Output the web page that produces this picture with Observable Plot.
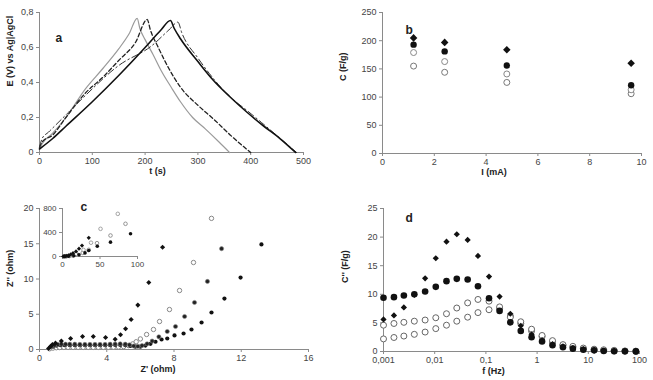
<!DOCTYPE html>
<html><head><meta charset="utf-8">
<script src="https://cdn.jsdelivr.net/npm/d3@7"></script>
<script src="https://cdn.jsdelivr.net/npm/@observablehq/plot@0.6"></script>
<style>
body{margin:0;background:#fff;}
#wrap{position:relative;width:653px;height:380px;background:#fff;overflow:hidden;}
#wrap svg{position:absolute;overflow:visible;}
</style></head><body><div id="wrap"></div>
<script>
// ---------- Panel a: galvanostatic charge/discharge ----------
const aGrayT = [0, 5, 25, 50, 87, 120, 150, 170, 185, 190, 200, 215, 230, 250, 267, 290, 314, 340, 360];
const aGrayE = [0.02, 0.05, 0.11, 0.2, 0.364, 0.48, 0.592, 0.68, 0.767, 0.71, 0.645, 0.56, 0.47, 0.37, 0.29, 0.2, 0.135, 0.06, 0];
const aDashT = [0, 5, 25, 50, 87, 120, 150, 182, 204, 210, 225, 245, 267, 300, 330, 365, 400];
const aDashE = [0.03, 0.06, 0.1, 0.2, 0.34, 0.43, 0.526, 0.63, 0.76, 0.7, 0.6, 0.48, 0.373, 0.27, 0.19, 0.09, 0];
const aDotT = [0, 5, 17, 55, 87, 150, 213, 245, 262, 270, 300, 330, 360, 393, 425, 456, 487];
const aDotE = [0.03, 0.08, 0.116, 0.23, 0.326, 0.497, 0.611, 0.7, 0.745, 0.68, 0.54, 0.42, 0.32, 0.24, 0.16, 0.08, 0];
const aSolT = [0, 25, 50, 100, 150, 200, 230, 248, 255, 267, 300, 330, 360, 393, 425, 456, 485];
const aSolE = [0.02, 0.08, 0.15, 0.29, 0.44, 0.6, 0.7, 0.754, 0.71, 0.65, 0.52, 0.41, 0.32, 0.23, 0.15, 0.078, 0];
const aTicksX = [0, 100, 200, 300, 400, 500];
const aTicksY = [0, 0.2, 0.4, 0.6, 0.8];
const aTickLabelsY = ["0", "0,2", "0,4", "0,6", "0,8"];

// ---------- Panel b: capacitance vs current ----------
const bCurrent = [1.2, 2.4, 4.8, 9.6];
const bFilledDiamond = [205, 197, 184, 160];
const bFilledCircle = [193, 181, 156, 121];
const bOpenDiamond = [179, 163, 141, 113];
const bOpenCircle = [155, 144, 126, 106];
const bTicksX = [0, 2, 4, 6, 8, 10];
const bTicksY = [0, 50, 100, 150, 200, 250];

// ---------- Panel c: Nyquist ----------
const cAx = [0.54, 0.65, 0.77, 0.95, 1.3, 1.85, 2.56, 3.2, 3.93, 4.5, 4.82, 5.12, 5.45, 5.85, 6.5, 7.32];
const cAy = [0.14, 0.43, 0.7, 0.9, 1.2, 1.56, 1.84, 1.84, 1.7, 1.45, 2.1, 2.95, 4.25, 6.3, 9.5, 14.5];
const cBx = [0.6, 0.8, 1.0, 1.2, 1.45, 1.7, 2.0, 2.3, 2.6, 2.9, 3.2, 3.5, 3.8, 4.1, 4.4, 4.7, 5.0, 5.3, 5.55, 5.75, 6.0, 6.37, 6.78, 7.14, 7.73, 8.33, 9.16, 10.23];
const cBy = [0.1, 0.2, 0.25, 0.28, 0.3, 0.3, 0.3, 0.3, 0.3, 0.3, 0.3, 0.3, 0.3, 0.3, 0.32, 0.35, 0.4, 0.55, 0.8, 1.1, 1.5, 2.13, 2.84, 3.97, 5.67, 8.37, 12.34, 18.6];
const cCx = [0.7, 0.9, 1.1, 1.3, 1.55, 1.8, 2.1, 2.4, 2.7, 3.0, 3.3, 3.6, 3.9, 4.2, 4.5, 4.8, 5.1, 5.35, 5.6, 5.85, 6.1, 6.4, 6.7, 7.1, 7.6, 8.09, 8.63, 9.22, 9.99, 10.83];
const cCy = [0.4, 0.6, 0.7, 0.75, 0.75, 0.75, 0.75, 0.72, 0.72, 0.72, 0.72, 0.72, 0.72, 0.75, 0.78, 0.8, 0.75, 0.65, 0.5, 0.45, 0.55, 0.8, 1.2, 1.8, 2.55, 3.26, 4.68, 6.67, 9.65, 14.3];
const cDx = [0.8, 1.0, 1.25, 1.5, 1.8, 2.1, 2.4, 2.7, 3.0, 3.3, 3.6, 3.9, 4.2, 4.5, 4.8, 5.1, 5.4, 5.7, 6.0, 6.3, 6.6, 6.9, 7.26, 7.6, 8.03, 8.57, 9.04, 9.64, 10.23, 11.0, 11.96, 13.2];
const cDy = [0.4, 0.55, 0.6, 0.6, 0.6, 0.6, 0.6, 0.6, 0.6, 0.6, 0.6, 0.6, 0.62, 0.65, 0.65, 0.6, 0.5, 0.4, 0.4, 0.55, 0.8, 1.1, 1.42, 1.56, 1.99, 2.27, 2.84, 3.83, 5.25, 7.23, 10.2, 14.9];
const cTicksX = [0, 4, 8, 12, 16];
const cTicksY = [0, 5, 10, 15, 20];
// inset
const iAx = [1, 3, 5, 8, 11, 14, 18, 22, 26, 35];
const iAy = [2, 5, 10, 20, 35, 55, 85, 130, 183, 311];
const iBx = [2, 5, 9, 14, 20, 27, 35, 46, 64, 84];
const iBy = [1, 3, 8, 15, 30, 60, 111, 222, 350, 545];
const iCx = [4, 10, 18, 28, 38, 50.7, 73.7];
const iCy = [3, 12, 40, 110, 230, 461, 711];
const iDx = [3, 8, 15, 22, 30, 35, 46.4, 64, 90.7];
const iDy = [1, 4, 12, 30, 60, 100, 172, 239, 378];
const iTicksX = [0, 50, 100];
const iTicksY = [0, 400, 800];

// ---------- Panel d: imaginary capacitance vs frequency ----------
const dFreq = [0.001, 0.0016, 0.0025, 0.004, 0.0065, 0.0105, 0.017, 0.027, 0.044, 0.07, 0.115, 0.185, 0.3, 0.48, 0.78, 1.25, 2, 3.2, 5, 8, 13, 20, 32, 52, 85];
const dStar = [5.6, 6.3, 7.7, 9.9, 12.8, 16.3, 19.2, 20.5, 19.5, 16.7, 13.1, 9.6, 6.6, 4.5, 3.0, 2.0, 1.3, 0.9, 0.6, 0.4, 0.2, 0.15, 0.1, 0.05, 0.05];
const dFilled = [9.4, 9.5, 9.8, 10.0, 10.5, 11.3, 12.3, 12.7, 12.6, 11.4, 9.3, 7.1, 5.1, 3.6, 2.5, 1.75, 1.1, 0.75, 0.5, 0.3, 0.2, 0.1, 0.05, 0.05, 0.02];
const dOpenUpper = [4.6, 4.9, 5.1, 5.3, 5.5, 5.9, 6.6, 7.6, 8.5, 9.1, 8.8, 7.8, 6.0, 5.2, 3.9, 2.8, 1.9, 1.2, 0.9, 0.6, 0.4, 0.3, 0.2, 0.1, 0.05];
const dOpenLower = [2.2, 2.45, 2.7, 3.0, 3.4, 4.0, 4.6, 5.3, 6.0, 6.8, 7.3, 7.5, 6.2, 4.9, 3.6, 2.6, 1.7, 1.1, 0.75, 0.5, 0.3, 0.2, 0.1, 0.05, 0.05];
const dTicksX = [0.001, 0.01, 0.1, 1, 10, 100];
const dTickLabelsX = ["0,001", "0,01", "0,1", "1", "10", "100"];
const dTicksY = [0, 5, 10, 15, 20, 25];

// ---------- helpers ----------
const FONT = "'Liberation Sans', Arial, sans-serif";
const AXIS = "#8a8a8a";
const TXT = "#444";
const pts = (xs, ys) => xs.map((x, i) => ({x, y: ys[i]}));
const lab = (ticks, labels) => d => labels ? labels[ticks.indexOf(d)] : String(d);

function panel(o) {
  const fs = o.fontSize || 9;
  const marks = [
    Plot.ruleX([o.xDomain[0]], {stroke: AXIS, strokeWidth: 1}),
    Plot.ruleY([o.yDomain[0]], {stroke: AXIS, strokeWidth: 1}),
    Plot.axisX(o.xTicks, {tickSize: 3, tickPadding: 2, stroke: AXIS, fill: TXT, fontSize: fs, label: null, tickFormat: lab(o.xTicks, o.xLabels)}),
    Plot.axisY(o.yTicks, {tickSize: 3, tickPadding: 3, stroke: AXIS, fill: TXT, fontSize: fs, label: null, tickFormat: lab(o.yTicks, o.yLabels)}),
    ...o.marks
  ];
  if (o.xTitle) marks.push(Plot.text([o.xTitle], {frameAnchor: "bottom", dx: o.xTitleDx, dy: o.xTitleDy, fontWeight: "bold", fontSize: 9, fill: "#222"}));
  if (o.yTitle) marks.push(Plot.text([o.yTitle], {frameAnchor: "left", dx: o.yTitleDx, dy: o.yTitleDy, rotate: -90, fontWeight: "bold", fontSize: 9, fill: "#222"}));
  if (o.letter) marks.push(Plot.text([o.letter], {frameAnchor: "top-left", dx: o.letterDx, dy: o.letterDy, fontWeight: "bold", fontSize: 12, fill: "#222"}));
  const svg = Plot.plot({
    width: o.width, height: o.height,
    marginLeft: o.ml, marginRight: o.mr, marginTop: o.mt, marginBottom: o.mb,
    x: {type: o.xType || "linear", domain: o.xDomain},
    y: {domain: o.yDomain},
    style: {fontFamily: FONT, fontSize: fs + "px", color: TXT, background: "transparent", overflow: "visible"},
    marks
  });
  svg.style.left = o.left + "px";
  svg.style.top = o.top + "px";
  document.getElementById("wrap").appendChild(svg);
}

// ---------- panel a ----------
panel({
  left: 0, top: 0, width: 326, height: 190, ml: 39, mr: 23, mt: 12, mb: 38,
  xDomain: [0, 500], yDomain: [0, 0.8],
  xTicks: aTicksX, yTicks: aTicksY, yLabels: aTickLabelsY,
  xTitle: "t (s)", xTitleDx: -14, xTitleDy: 21,
  yTitle: "E (V) vs Ag|AgCl", yTitleDx: -29, yTitleDy: 4,
  letter: "a", letterDx: 16, letterDy: 21,
  marks: [
    Plot.line(pts(aGrayT, aGrayE), {x: "x", y: "y", stroke: "#9a9a9a", strokeWidth: 1.2, curve: "monotone-x"}),
    Plot.line(pts(aDashT, aDashE), {x: "x", y: "y", stroke: "#222", strokeWidth: 1.3, strokeDasharray: "4,2.5", curve: "monotone-x"}),
    Plot.line(pts(aDotT, aDotE), {x: "x", y: "y", stroke: "#333", strokeWidth: 1, strokeDasharray: "7,3,1.5,3", curve: "monotone-x"}),
    Plot.line(pts(aSolT, aSolE), {x: "x", y: "y", stroke: "#111", strokeWidth: 1.6, curve: "monotone-x"})
  ]
});

// ---------- panel b ----------
panel({
  left: 326, top: 0, width: 327, height: 190, ml: 56, mr: 12, mt: 12, mb: 37,
  xDomain: [0, 10], yDomain: [0, 250],
  xTicks: bTicksX, yTicks: bTicksY,
  xTitle: "I (mA)", xTitleDx: -18, xTitleDy: 21,
  yTitle: "C (F/g)", yTitleDx: -39, yTitleDy: -2,
  letter: "b", letterDx: 23, letterDy: 13,
  marks: [
    Plot.dot(pts(bCurrent, bOpenCircle), {x: "x", y: "y", r: 3, stroke: "#777", strokeWidth: 1, fill: "white"}),
    Plot.dot(pts(bCurrent, bOpenDiamond), {x: "x", y: "y", r: 3, stroke: "#888", strokeWidth: 1, fill: "white"}),
    Plot.dot(pts(bCurrent, bFilledCircle), {x: "x", y: "y", r: 3.2, fill: "#111", stroke: "none"}),
    Plot.dot(pts(bCurrent, bFilledDiamond), {x: "x", y: "y", r: 3.4, symbol: "diamond2", fill: "#111", stroke: "none"})
  ]
});

// ---------- panel c ----------
panel({
  left: 0, top: 190, width: 326, height: 190, ml: 39, mr: 18, mt: 18, mb: 31,
  xDomain: [0, 16], yDomain: [0, 20],
  xTicks: cTicksX, yTicks: cTicksY,
  xTitle: "Z' (ohm)", xTitleDx: -16, xTitleDy: 22,
  yTitle: "Z'' (ohm)", yTitleDx: -29, yTitleDy: 8,
  letter: "c", letterDx: 41, letterDy: -6,
  marks: [
    Plot.dot(pts(cBx, cBy), {x: "x", y: "y", r: 2.2, stroke: "#888", strokeWidth: 1, fill: "white"}),
    Plot.dot(pts(cDx, cDy), {x: "x", y: "y", r: 2.1, fill: "#111", stroke: "none"}),
    Plot.dot(pts(cCx, cCy), {x: "x", y: "y", r: 2.1, fill: "#222", stroke: "#888", strokeWidth: 0.6}),
    Plot.dot(pts(cAx, cAy), {x: "x", y: "y", r: 2.3, symbol: "diamond2", fill: "#111", stroke: "none"})
  ]
});
// inset
panel({
  left: 40, top: 198, width: 110, height: 74, ml: 22, mr: 13, mt: 10, mb: 16,
  xDomain: [0, 100], yDomain: [0, 800], fontSize: 8,
  xTicks: iTicksX, yTicks: iTicksY,
  marks: [
    Plot.dot(pts(iBx, iBy), {x: "x", y: "y", r: 1.8, stroke: "#888", strokeWidth: 0.9, fill: "white"}),
    Plot.dot(pts(iCx, iCy), {x: "x", y: "y", r: 1.8, stroke: "#999", strokeWidth: 0.9, fill: "white"}),
    Plot.dot(pts(iDx, iDy), {x: "x", y: "y", r: 1.8, fill: "#111", stroke: "none"}),
    Plot.dot(pts(iAx, iAy), {x: "x", y: "y", r: 1.9, symbol: "diamond2", fill: "#111", stroke: "none"})
  ]
});

// ---------- panel d ----------
panel({
  left: 326, top: 190, width: 327, height: 190, ml: 57, mr: 14, mt: 18, mb: 29,
  xType: "log", xDomain: [0.001, 100], yDomain: [0, 25],
  xTicks: dTicksX, xLabels: dTickLabelsX, yTicks: dTicksY,
  xTitle: "f (Hz)", xTitleDx: -18, xTitleDy: 22,
  yTitle: "C'' (F/g)", yTitleDx: -38, yTitleDy: 3,
  letter: "d", letterDx: 22, letterDy: 5,
  marks: [
    Plot.dot(pts(dFreq, dOpenLower), {x: "x", y: "y", r: 3, stroke: "#666", strokeWidth: 1, fill: "white"}),
    Plot.dot(pts(dFreq, dOpenUpper), {x: "x", y: "y", r: 3, stroke: "#666", strokeWidth: 1, fill: "white"}),
    Plot.dot(pts(dFreq, dFilled), {x: "x", y: "y", r: 3.3, fill: "#111", stroke: "none"}),
    Plot.dot(pts(dFreq, dStar), {x: "x", y: "y", r: 2.8, symbol: "diamond2", fill: "#111", stroke: "none"})
  ]
});
</script></body></html>
